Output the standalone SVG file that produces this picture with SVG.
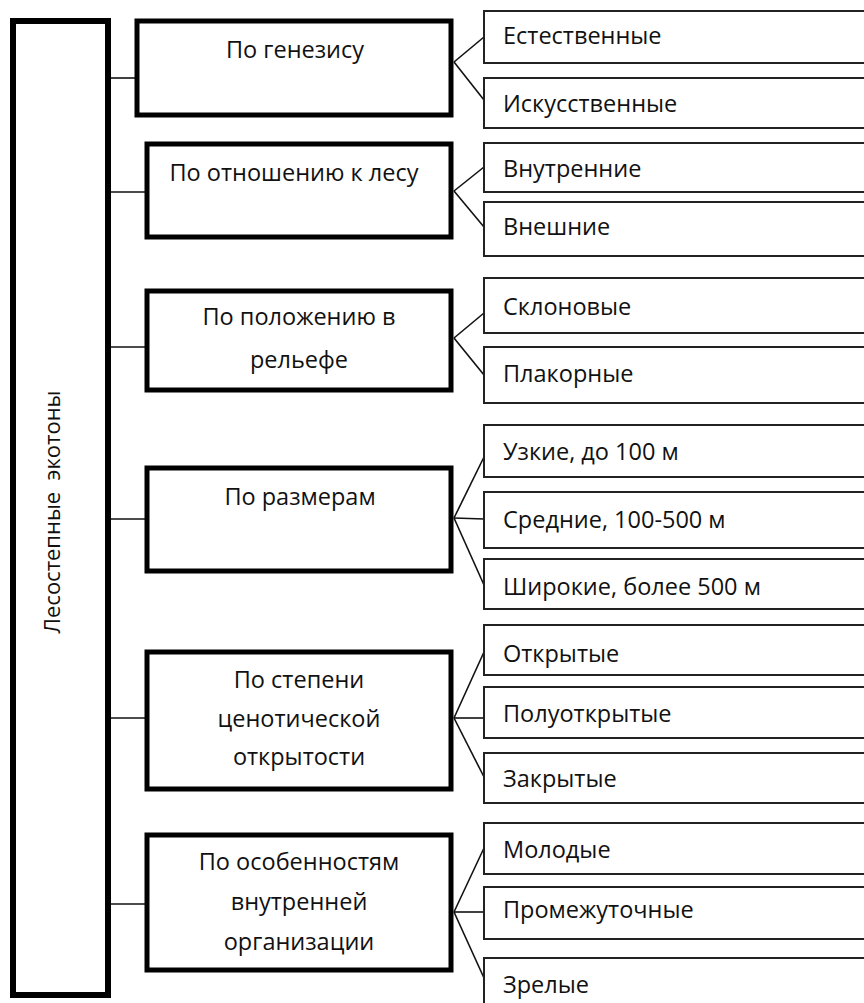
<svg xmlns="http://www.w3.org/2000/svg" width="864" height="1003" viewBox="0 0 864 1003">
<style>
.main{fill:#fff;stroke:#000;stroke-width:6}
.cat{fill:#fff;stroke:#000;stroke-width:5}
.leaf{fill:#fff;stroke:#222;stroke-width:2}
.t{font-family:"Open Sans","Noto Sans",sans-serif;font-size:23.5px;fill:#111}
.c{text-anchor:middle}
.conn line{stroke:#111;stroke-width:1.6}
</style>
<rect width="864" height="1003" fill="#fff"/>
<g id="connectors" class="conn">
<line x1="111" y1="78" x2="137" y2="78"/>
<line x1="111" y1="192" x2="147" y2="192"/>
<line x1="111" y1="347" x2="147" y2="347"/>
<line x1="111" y1="519" x2="147" y2="519"/>
<line x1="111" y1="718" x2="147" y2="718"/>
<line x1="111" y1="904" x2="147" y2="904"/>
<line x1="454" y1="62" x2="484" y2="37"/>
<line x1="454" y1="62" x2="484" y2="100"/>
<line x1="454" y1="191" x2="484" y2="167"/>
<line x1="454" y1="191" x2="484" y2="227"/>
<line x1="454" y1="338" x2="484" y2="313"/>
<line x1="454" y1="338" x2="484" y2="375"/>
<line x1="454" y1="518" x2="484" y2="457"/>
<line x1="454" y1="518" x2="484" y2="519"/>
<line x1="454" y1="518" x2="484" y2="585"/>
<line x1="454" y1="718" x2="484" y2="652"/>
<line x1="454" y1="718" x2="484" y2="718"/>
<line x1="454" y1="718" x2="484" y2="777"/>
<line x1="454" y1="912" x2="484" y2="848"/>
<line x1="454" y1="912" x2="484" y2="912"/>
<line x1="454" y1="912" x2="484" y2="978"/>
</g>
<g id="root">
<rect class="main" x="13" y="21" width="95" height="974"/>
<text class="t c" style="font-size:22px" xml:space="preserve" transform="translate(60,512) rotate(-90)">Лесостепные  экотоны</text>
</g>
<g id="cat1"><rect class="cat" x="137" y="21" width="314" height="94"/><text class="t c" x="295" y="58">По генезису</text></g>
<g id="cat2"><rect class="cat" x="147" y="144" width="304" height="93"/><text class="t c" x="294" y="181">По отношению к лесу</text></g>
<g id="cat3"><rect class="cat" x="147" y="291" width="304" height="99"/><text class="t c" x="299" y="325">По положению в</text><text class="t c" x="299" y="368">рельефе</text></g>
<g id="cat4"><rect class="cat" x="147" y="468" width="304" height="103"/><text class="t c" x="300" y="505">По размерам</text></g>
<g id="cat5"><rect class="cat" x="147" y="652" width="304" height="137"/><text class="t c" x="299" y="688">По степени</text><text class="t c" x="299" y="727">ценотической</text><text class="t c" x="299" y="765">открытости</text></g>
<g id="cat6"><rect class="cat" x="147" y="835" width="304" height="135"/><text class="t c" x="299" y="870">По особенностям</text><text class="t c" x="299" y="910">внутренней</text><text class="t c" x="299" y="950">организации</text></g>
<g id="leaf1"><rect class="leaf" x="484" y="11" width="400" height="52"/><text class="t" x="503" y="44">Естественные</text></g>
<g id="leaf2"><rect class="leaf" x="484" y="78" width="400" height="50"/><text class="t" x="503" y="112">Искусственные</text></g>
<g id="leaf3"><rect class="leaf" x="484" y="143" width="400" height="49"/><text class="t" x="503" y="177">Внутренние</text></g>
<g id="leaf4"><rect class="leaf" x="484" y="202" width="400" height="54"/><text class="t" x="503" y="235">Внешние</text></g>
<g id="leaf5"><rect class="leaf" x="484" y="278" width="400" height="55"/><text class="t" x="503" y="315">Склоновые</text></g>
<g id="leaf6"><rect class="leaf" x="484" y="347" width="400" height="56"/><text class="t" x="503" y="382">Плакорные</text></g>
<g id="leaf7"><rect class="leaf" x="484" y="425" width="400" height="52"/><text class="t" x="503" y="460">Узкие, до 100 м</text></g>
<g id="leaf8"><rect class="leaf" x="484" y="492" width="400" height="56"/><text class="t" x="503" y="528">Средние, 100-500 м</text></g>
<g id="leaf9"><rect class="leaf" x="484" y="559" width="400" height="50"/><text class="t" x="503" y="595">Широкие, более 500 м</text></g>
<g id="leaf10"><rect class="leaf" x="484" y="625" width="400" height="50"/><text class="t" x="503" y="662">Открытые</text></g>
<g id="leaf11"><rect class="leaf" x="484" y="687" width="400" height="51"/><text class="t" x="503" y="722">Полуоткрытые</text></g>
<g id="leaf12"><rect class="leaf" x="484" y="753" width="400" height="50"/><text class="t" x="503" y="787">Закрытые</text></g>
<g id="leaf13"><rect class="leaf" x="484" y="823" width="400" height="51"/><text class="t" x="503" y="858">Молодые</text></g>
<g id="leaf14"><rect class="leaf" x="484" y="887" width="400" height="52"/><text class="t" x="503" y="918">Промежуточные</text></g>
<g id="leaf15"><rect class="leaf" x="484" y="958" width="400" height="80"/><text class="t" x="503" y="993">Зрелые</text></g>
</svg>
